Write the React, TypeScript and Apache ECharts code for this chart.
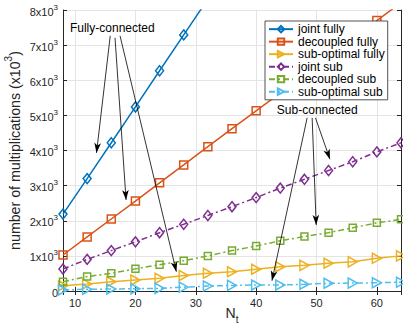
import React, { useEffect, useRef } from 'react';
import * as echarts from 'echarts';

const Nt = [8, 12, 16, 20, 24, 28, 32, 36, 40, 44, 48, 52, 56, 60, 64];
const jointFully = [2190, 3200, 4220, 5240, 6270, 7290, 8310];
const decoupledFully = [1025, 1540, 2050, 2560, 3080, 3590, 4110, 4620, 5130, 5640, 6150, 6670, 7180, 7700, 8210];
const subOptFully = [150, 200, 265, 313, 360, 440, 505, 550, 620, 690, 730, 790, 830, 930, 1000];
const jointSub = [627, 900, 1150, 1400, 1660, 1900, 2150, 2400, 2660, 2930, 3180, 3430, 3680, 3960, 4220];
const decoupledSub = [265, 410, 505, 630, 750, 860, 1000, 1150, 1280, 1430, 1550, 1660, 1800, 1940, 2040];
const subOptSub = [30, 50, 55, 65, 75, 110, 140, 160, 170, 170, 190, 220, 225, 235, 250];

const seriesNames = ['joint fully', 'decoupled fully', 'sub-optimal fully', 'joint sub', 'decoupled sub', 'sub-optimal sub'];

// annotation arrows in data coordinates [from, to]
const fullyArrows = [
  [[15.83, 7265], [13.55, 3932]],
  [[16.62, 7208], [18.45, 2593]],
  [[17.45, 7265], [26.78, 550]],
];
const subArrows = [
  [[48.45, 4929], [42.62, 293]],
  [[49.28, 4929], [49.95, 1880]],
  [[49.83, 4929], [52.22, 3752]],
];
const fullyLabelPos = [16.17, 7490];
const subLabelPos = [50.12, 5140];

const FONT = '"Liberation Sans", Arial, Helvetica, sans-serif';
const colors = ['#0072BD', '#D95319', '#EDB120', '#7E2F8E', '#77AC30', '#4DBEEE'];
const DASHDOT = [6, 3, 2, 3];

function pairs(ys: number[]) {
  return ys.map((y, i) => [Nt[i], y]);
}

export default function App() {
  const ref = useRef<HTMLDivElement>(null);
  useEffect(() => {
    const chart = echarts.init(ref.current!, null, { renderer: 'svg' });
    const datas = [jointFully, decoupledFully, subOptFully, jointSub, decoupledSub, subOptSub];
    const symbols = ['diamond', 'rect', 'triangle', 'diamond', 'rect', 'triangle'];
    const sizes: any[] = [[8, 10], [8, 8], [10, 9], [8, 10], [7, 7], [10, 9]];
    const arrowLines = [...fullyArrows, ...subArrows].map((a) => [
      { coord: a[0], symbol: 'none' },
      { coord: a[1], symbol: 'arrow', symbolSize: [5, 10] },
    ]);
    const series: any[] = datas.map((d, i) => ({
      name: seriesNames[i],
      type: 'line',
      data: pairs(d),
      symbol: symbols[i],
      symbolSize: sizes[i],
      symbolRotate: symbols[i] === 'triangle' ? -90 : 0,
      showAllSymbol: true,
      lineStyle: { color: colors[i], width: 1.5, type: i >= 3 ? DASHDOT : 'solid' },
      itemStyle: { color: 'none', borderColor: colors[i], borderWidth: 1.5 },
      emphasis: { disabled: true },
      z: 3,
    }));
    series[0].markLine = {
      silent: true,
      symbol: ['none', 'arrow'],
      label: { show: false },
      emphasis: { disabled: true },
      lineStyle: { color: '#000', width: 0.8, type: 'solid' },
      data: arrowLines,
    };
    const axisCommon = {
      axisLine: { show: true, lineStyle: { color: '#262626', width: 1 } },
      axisTick: { show: true, inside: true, length: 4, lineStyle: { color: '#262626' } },
    };
    chart.setOption({
      animation: false,
      backgroundColor: '#fff',
      textStyle: { fontFamily: FONT },
      grid: { left: 63, right: 2, top: 10, bottom: 35, containLabel: false, outerBoundsMode: 'none' },
      legend: {
        data: seriesNames,
        orient: 'vertical',
        left: 265,
        top: 21,
        itemWidth: 24,
        itemHeight: 8,
        itemGap: 0.2,
        padding: [2, 3, 2, 3],
        borderColor: '#262626',
        borderWidth: 0.8,
        backgroundColor: '#fff',
        textStyle: { fontSize: 12, lineHeight: 12.3, color: '#000', fontFamily: FONT },
        selectedMode: false,
      },
      xAxis: [
        {
          type: 'value',
          min: 8,
          max: 64,
          splitNumber: 6,
          ...axisCommon,
          axisLabel: { fontSize: 11, color: '#262626', margin: 6, showMinLabel: false, showMaxLabel: false },
          splitLine: { show: true, lineStyle: { color: '#e4e4e4', width: 1 } },
          name: '{a|N}{s|t}',
          nameLocation: 'middle',
          nameGap: 24,
          nameMoveOverlap: false,
          nameTextStyle: {
            verticalAlign: 'middle',
            rich: {
              a: { fontSize: 14, color: '#262626', fontFamily: FONT, lineHeight: 14, verticalAlign: 'top' },
              s: { fontSize: 10, color: '#262626', fontFamily: FONT, lineHeight: 18, verticalAlign: 'bottom' },
            },
          },
        },
        {
          type: 'value',
          position: 'top',
          min: 8,
          max: 64,
          splitNumber: 6,
          ...axisCommon,
          axisLabel: { show: false },
          splitLine: { show: false },
        },
      ],
      yAxis: [
        {
          type: 'value',
          min: 0,
          max: 8000,
          interval: 1000,
          ...axisCommon,
          axisLabel: {
            margin: 5,
            formatter: (v: number) => (v === 0 ? '{b|0}' : `{b|${v / 1000}x10}{s|3}`),
            rich: {
              b: { fontSize: 11, color: '#262626', fontFamily: FONT, lineHeight: 14, verticalAlign: 'bottom' },
              s: { fontSize: 8, color: '#262626', fontFamily: FONT, lineHeight: 14, verticalAlign: 'top' },
            },
          },
          splitLine: { show: true, lineStyle: { color: '#e4e4e4', width: 1 } },
          name: '{a|number of multiplications (x10}{s|3}{a|)}',
          nameLocation: 'middle',
          nameGap: 41,
          nameMoveOverlap: false,
          nameTextStyle: {
            rich: {
              a: { fontSize: 14.2, color: '#262626', fontFamily: FONT, lineHeight: 19, verticalAlign: 'bottom' },
              s: { fontSize: 10, color: '#262626', fontFamily: FONT, lineHeight: 19, verticalAlign: 'top' },
            },
          },
        },
        {
          type: 'value',
          position: 'right',
          min: 0,
          max: 8000,
          interval: 1000,
          ...axisCommon,
          axisLabel: { show: false },
          splitLine: { show: false },
        },
      ],
      series,
    });
    const p1 = chart.convertToPixel({ gridIndex: 0 }, fullyLabelPos) as number[];
    const p2 = chart.convertToPixel({ gridIndex: 0 }, subLabelPos) as number[];
    const txt = (p: number[], s: string) => ({
      type: 'text',
      x: p[0],
      y: p[1],
      z: 10,
      style: { text: s, fontSize: 12, fontFamily: FONT, fill: '#000', align: 'center', verticalAlign: 'middle' },
    });
    chart.setOption({ graphic: [txt(p1, 'Fully-connected'), txt(p2, 'Sub-connected')] });
    return () => chart.dispose();
  }, []);
  return <div ref={ref} style={{ position: 'absolute', left: 0, top: 0, width: 403, height: 326 }} />;
}
